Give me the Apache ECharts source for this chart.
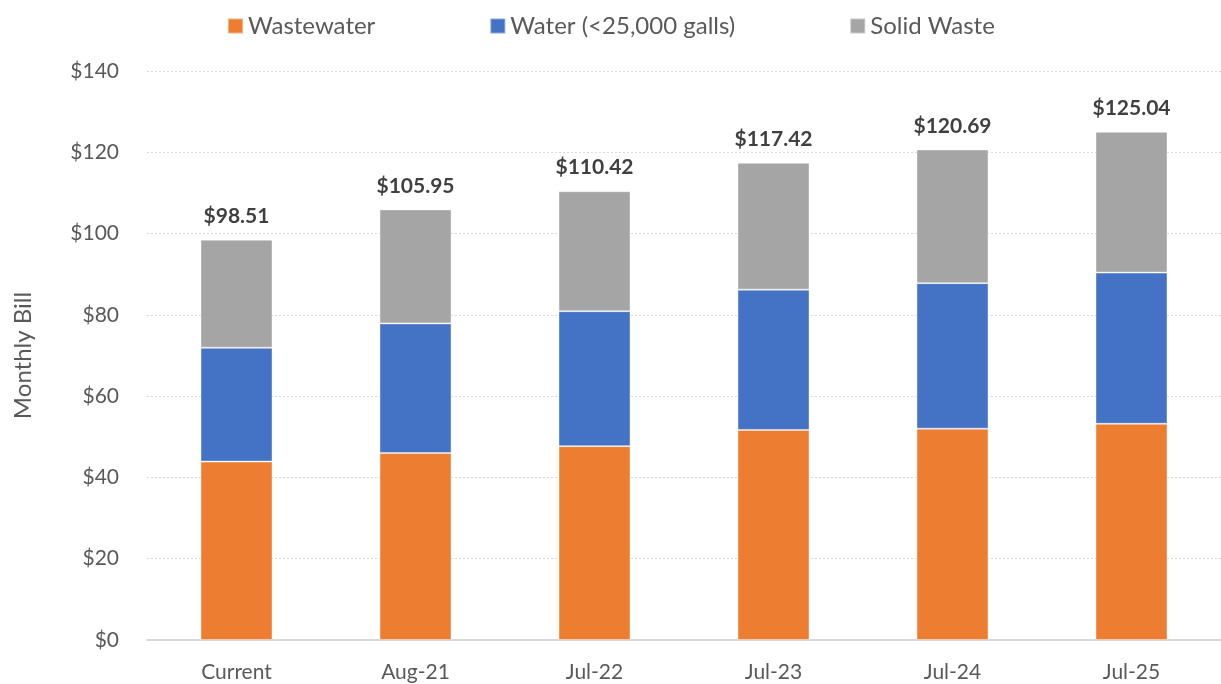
<!DOCTYPE html>
<html lang="en">
<head>
    <meta charset="UTF-8">
    <title>Monthly Bill</title>
    <script src="https://cdn.jsdelivr.net/npm/echarts@6/dist/echarts.min.js"></script>
    <style>
        html, body { margin: 0; padding: 0; background: #fff; }
    </style>
</head>
<body>
<div id="main" style="width: 1221px;height:684px;"></div>
</body>
</html>

<script type="text/javascript">
    // values
    var categories = ['Current', 'Aug-21', 'Jul-22', 'Jul-23', 'Jul-24', 'Jul-25'];
    var wastewater = [43.9, 46.0, 47.7, 51.7, 52.0, 53.2];
    var water = [28.0, 31.9, 33.2, 34.5, 35.8, 37.2];
    var solidWaste = [26.61, 28.05, 29.52, 31.22, 32.89, 34.64];
    var totals = [98.51, 105.95, 110.42, 117.42, 120.69, 125.04];
    var yTicks = [0, 20, 40, 60, 80, 100, 120, 140];

    var font = 'Lato, "Open Sans", sans-serif';
    var myChart = echarts.init(document.getElementById('main'));

    var option = {
        animation: false,
        textStyle: { fontFamily: font },
        legend: {
            top: 9,
            left: 222,
            itemWidth: 15,
            itemHeight: 15,
            itemGap: 114,
            icon: 'rect',
            textStyle: { fontSize: 24, color: '#595959', fontFamily: font },
            data: ['Wastewater', 'Water (<25,000 galls)', 'Solid Waste']
        },
        // the plot runs a few pixels past the right edge of the picture
        grid: { left: 147, width: 1080, top: 71, bottom: 44 },
        xAxis: {
            type: 'category',
            data: categories,
            axisTick: { show: false },
            axisLine: { lineStyle: { color: '#D9D9D9', width: 2 } },
            axisLabel: { fontSize: 21, color: '#595959', margin: 22 }
        },
        yAxis: {
            type: 'value',
            min: yTicks[0],
            max: yTicks[yTicks.length - 1],
            interval: 20,
            name: 'Monthly Bill',
            nameLocation: 'middle',
            nameGap: 112,
            nameTextStyle: { fontSize: 24, color: '#595959' },
            axisLabel: {
                fontSize: 21, color: '#595959', margin: 28,
                formatter: function (v) { return '$' + v; }
            },
            splitLine: { lineStyle: { color: '#D9D9D9', type: [2, 2], width: 1 } }
        },
        series: [
            {
                name: 'Wastewater', type: 'bar', stack: 'bill', barWidth: 72,
                itemStyle: { color: '#ED7D31', borderColor: 'rgba(255,255,255,0.4)', borderWidth: 1 },
                data: wastewater
            },
            {
                name: 'Water (<25,000 galls)', type: 'bar', stack: 'bill', barWidth: 72,
                itemStyle: { color: '#4472C4', borderColor: 'rgba(255,255,255,0.4)', borderWidth: 1 },
                data: water
            },
            {
                name: 'Solid Waste', type: 'bar', stack: 'bill', barWidth: 72,
                itemStyle: { color: '#A5A5A5', borderColor: 'rgba(255,255,255,0.4)', borderWidth: 1 },
                label: {
                    show: true,
                    position: 'top',
                    distance: 13,
                    fontSize: 21,
                    fontWeight: 'bold',
                    color: '#404040',
                    formatter: function (p) { return '$' + totals[p.dataIndex].toFixed(2); }
                },
                data: solidWaste
            }
        ]
    };

    myChart.setOption(option);
</script>
